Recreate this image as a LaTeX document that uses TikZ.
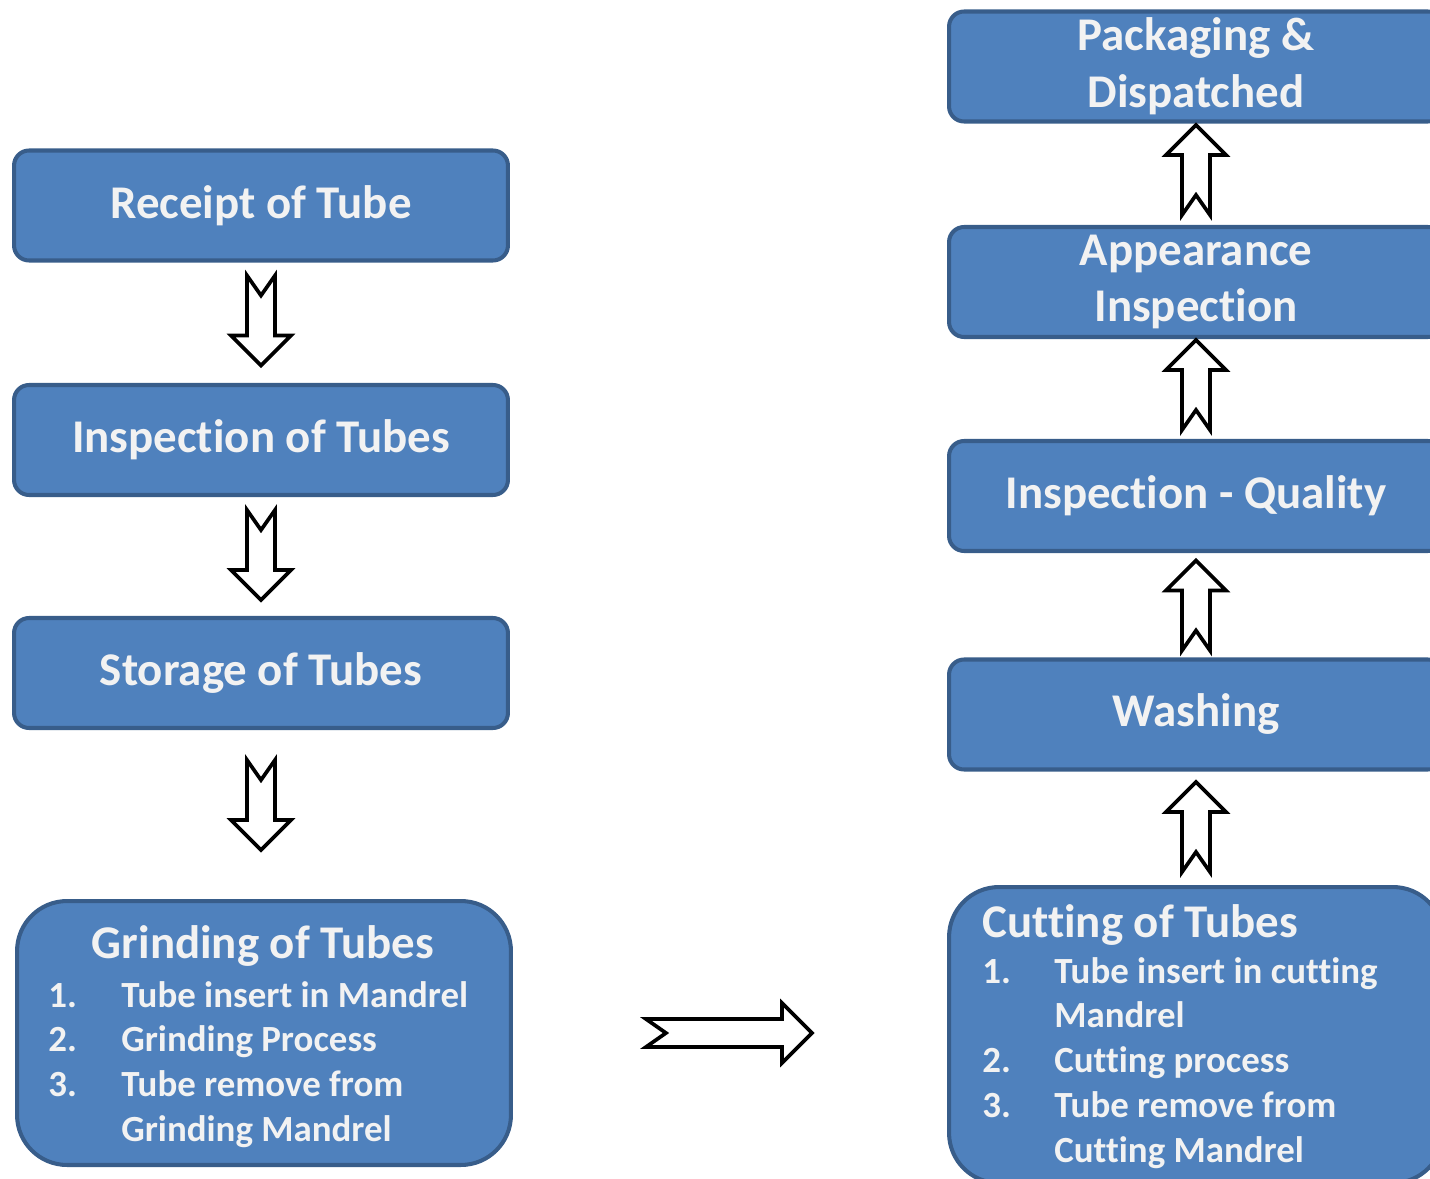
\documentclass[tikz,border=0pt]{standalone}
\usepackage{fontspec}
\setmainfont[Ligatures=NoCommon]{Carlito}
\usetikzlibrary{calc}
\definecolor{boxblue}{HTML}{4F81BD}
\definecolor{boxedge}{HTML}{385D8A}
\definecolor{boxtext}{HTML}{F2F2F2}
\tikzset{
	stepbox/.style={draw=boxedge, line width=2.3pt, fill=boxblue, rounded corners=0.3cm,
		minimum width=9.88cm, minimum height=2.2cm, inner sep=0pt, align=center,
		text=boxtext, font=\fontsize{26.7}{32.3}\selectfont\bfseries},
	listbox/.style={draw=boxedge, line width=2.3pt, fill=boxblue, rounded corners=1cm,
		minimum width=9.88cm, inner sep=0pt},
	boxtitle/.style={text=boxtext, inner sep=0pt, font=\fontsize{26.7}{32.3}\selectfont\bfseries},
	boxlist/.style={text=boxtext, inner sep=0pt, align=left, font=\fontsize{21}{25.5}\selectfont\bfseries},
	arrowline/.style={draw=black, fill=white, line width=2.1pt, miter limit=10},
	pics/blockarrow/.style={code={
			\draw[arrowline] (0,-14) -- (#1-30,-14) -- (#1-30,-30) -- (#1,0) -- (#1-30,30) -- (#1-30,14) -- (0,14) -- (20,0) -- cycle;
	}}
}
\begin{document}
\begin{tikzpicture}[x=0.02cm, y=-0.02cm]
				\useasboundingbox (0,0) rectangle (1430,1179);
				\clip (0,0) rectangle (1430,1179);
				
				% left column
				\node[stepbox] (receipt) at (261,205.5) {Receipt of Tube};
				\node[stepbox] (inspect) at (261,440) {Inspection of Tubes};
				\node[stepbox] (storage) at (261,673) {Storage of Tubes};
				\node[listbox, minimum height=5.28cm] (grind) at (264,1033) {};
				\node[boxtitle, anchor=base] (grindtitle) at (263,958) {Grinding of Tubes};
				\node[boxlist, anchor=base west] (grindlist) at (48,1007) {%
					\begin{tabular}[t]{@{}p{1.46cm}@{}l@{}}
						1. & Tube insert in Mandrel\\
						2. & Grinding Process\\
						3. & Tube remove from\\
						   & Grinding Mandrel
					\end{tabular}};
				
				% right column
				\node[stepbox] (pack) at (1196,66.5) {Packaging \&\\Dispatched};
				\node[stepbox] (appear) at (1196,282) {Appearance\\Inspection};
				\node[stepbox] (quality) at (1196,496) {Inspection - Quality};
				\node[stepbox] (wash) at (1196,714.5) {Washing};
				\node[listbox, minimum height=5.92cm] (cut) at (1196,1035) {};
				\node[boxtitle, anchor=base west] (cuttitle) at (982,937) {Cutting of Tubes};
				\node[boxlist, anchor=base west] (cutlist) at (982,983) {%
					\begin{tabular}[t]{@{}p{1.44cm}@{}l@{}}
						1. & Tube insert in cutting\\
						   & Mandrel\\
						2. & Cutting process\\
						3. & Tube remove from\\
						   & Cutting Mandrel
					\end{tabular}};
				
				% arrows
				\coordinate (d1) at ($(receipt.south)+(0,13)$);
				\coordinate (d2) at ($(inspect.south)+(0,13)$);
				\coordinate (d3) at ($(storage.south)+(0,30)$);
				\coordinate (h1) at ($(grind.east)+(133,0)$);
				\coordinate (u1) at ($(cut.north)+(0,-13)$);
				\coordinate (u2) at ($(wash.north)+(0,-7)$);
				\coordinate (u3) at ($(quality.north)+(0,-9)$);
				\coordinate (u4) at ($(appear.north)+(0,-10)$);
				
				\pic[rotate=-90] at (d1) {blockarrow=90};
				\pic[rotate=-90] at (d2) {blockarrow=90};
				\pic[rotate=-90] at (d3) {blockarrow=90};
				\pic at (h1) {blockarrow=166};
				\pic[rotate=90] at (u1) {blockarrow=90};
				\pic[rotate=90] at (u2) {blockarrow=90};
				\pic[rotate=90] at (u3) {blockarrow=90};
				\pic[rotate=90] at (u4) {blockarrow=90};
\end{tikzpicture}
\end{document}
